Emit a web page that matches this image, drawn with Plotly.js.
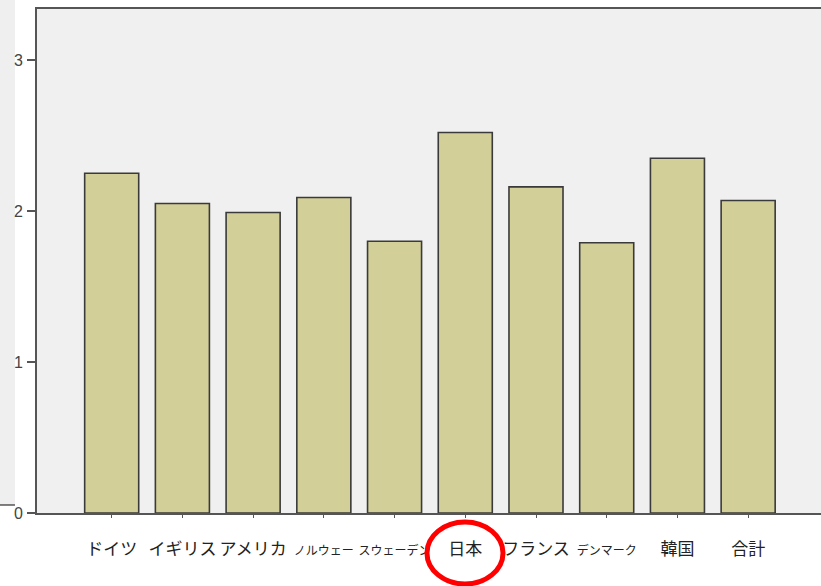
<!DOCTYPE html>
<html>
<head>
<meta charset="utf-8">
<script src="https://cdn.plot.ly/plotly-3.0.1.min.js"></script>
<style>
  html, body { margin: 0; padding: 0; background: #ffffff; }
  #chart { width: 821px; height: 586px; }
</style>
</head>
<body>
<div id="chart"></div>
<script>
// Country categories and mean scores
const countries = ["ドイツ", "イギリス", "アメリカ", "ノルウェー", "スウェーデン", "日本", "フランス", "デンマーク", "韓国", "合計"];
const meanScores = [2.25, 2.05, 1.99, 2.09, 1.80, 2.52, 2.16, 1.79, 2.35, 2.07];
// Labels drawn in a smaller size on the axis
const smallLabels = ["ノルウェー", "スウェーデン", "デンマーク"];
const yTickValues = [0, 1, 2, 3];

const tickText = countries.map(c =>
  smallLabels.includes(c) ? '<span style="font-size:12px">' + c + '</span>' : c
);

const bars = {
  type: 'bar',
  x: countries,
  y: meanScores,
  marker: {
    color: '#d3cf98',
    line: { color: '#3a3a3a', width: 1.6 }
  },
  hoverinfo: 'x+y'
};

const layout = {
  width: 821,
  height: 586,
  margin: { l: 37, r: 0, t: 9, b: 73, pad: 0 },
  paper_bgcolor: '#ffffff',
  plot_bgcolor: '#f0f0f0',
  showlegend: false,
  bargap: 0.236,
  xaxis: {
    type: 'category',
    range: [-1.056, 10.03],
    tickvals: countries,
    ticktext: tickText,
    tickangle: 0,
    ticks: 'outside',
    ticklen: 3,
    tickwidth: 1,
    tickcolor: '#555555',
    ticklabelstandoff: 17,
    tickfont: { family: '"Noto Sans CJK JP", sans-serif', size: 17, color: '#222222' },
    showline: true,
    linecolor: '#555555',
    linewidth: 2,
    mirror: true,
    showgrid: false,
    zeroline: false,
    fixedrange: true
  },
  yaxis: {
    range: [0, 3.338],
    tickvals: yTickValues,
    ticks: 'outside',
    ticklen: 8,
    tickwidth: 1.5,
    tickcolor: '#555555',
    ticklabelstandoff: 1,
    tickfont: { family: '"Liberation Sans", Arial, sans-serif', size: 16, color: '#444444' },
    showline: true,
    linecolor: '#555555',
    linewidth: 2,
    showgrid: false,
    zeroline: false,
    fixedrange: true
  },
  shapes: [
    // light panel at the far left
    {
      type: 'rect', xref: 'paper', yref: 'paper',
      x0: -0.0472, x1: -0.0281, y0: 0.0159, y1: 1.02,
      fillcolor: '#efefef', line: { width: 0 }, layer: 'below'
    },
    {
      type: 'line', xref: 'paper', yref: 'paper',
      x0: -0.0472, x1: -0.0281, y0: 0.0159, y1: 0.0159,
      line: { color: '#555555', width: 1.5 }
    },
    // red highlight ring around 日本
    {
      type: 'circle', xref: 'paper', yref: 'paper',
      x0: 0.4974, x1: 0.5944, y0: -0.1409, y1: -0.0179,
      line: { color: '#ff0000', width: 5 }
    }
  ]
};

Plotly.newPlot('chart', [bars], layout, { displayModeBar: false, staticPlot: true });
</script>
</body>
</html>
